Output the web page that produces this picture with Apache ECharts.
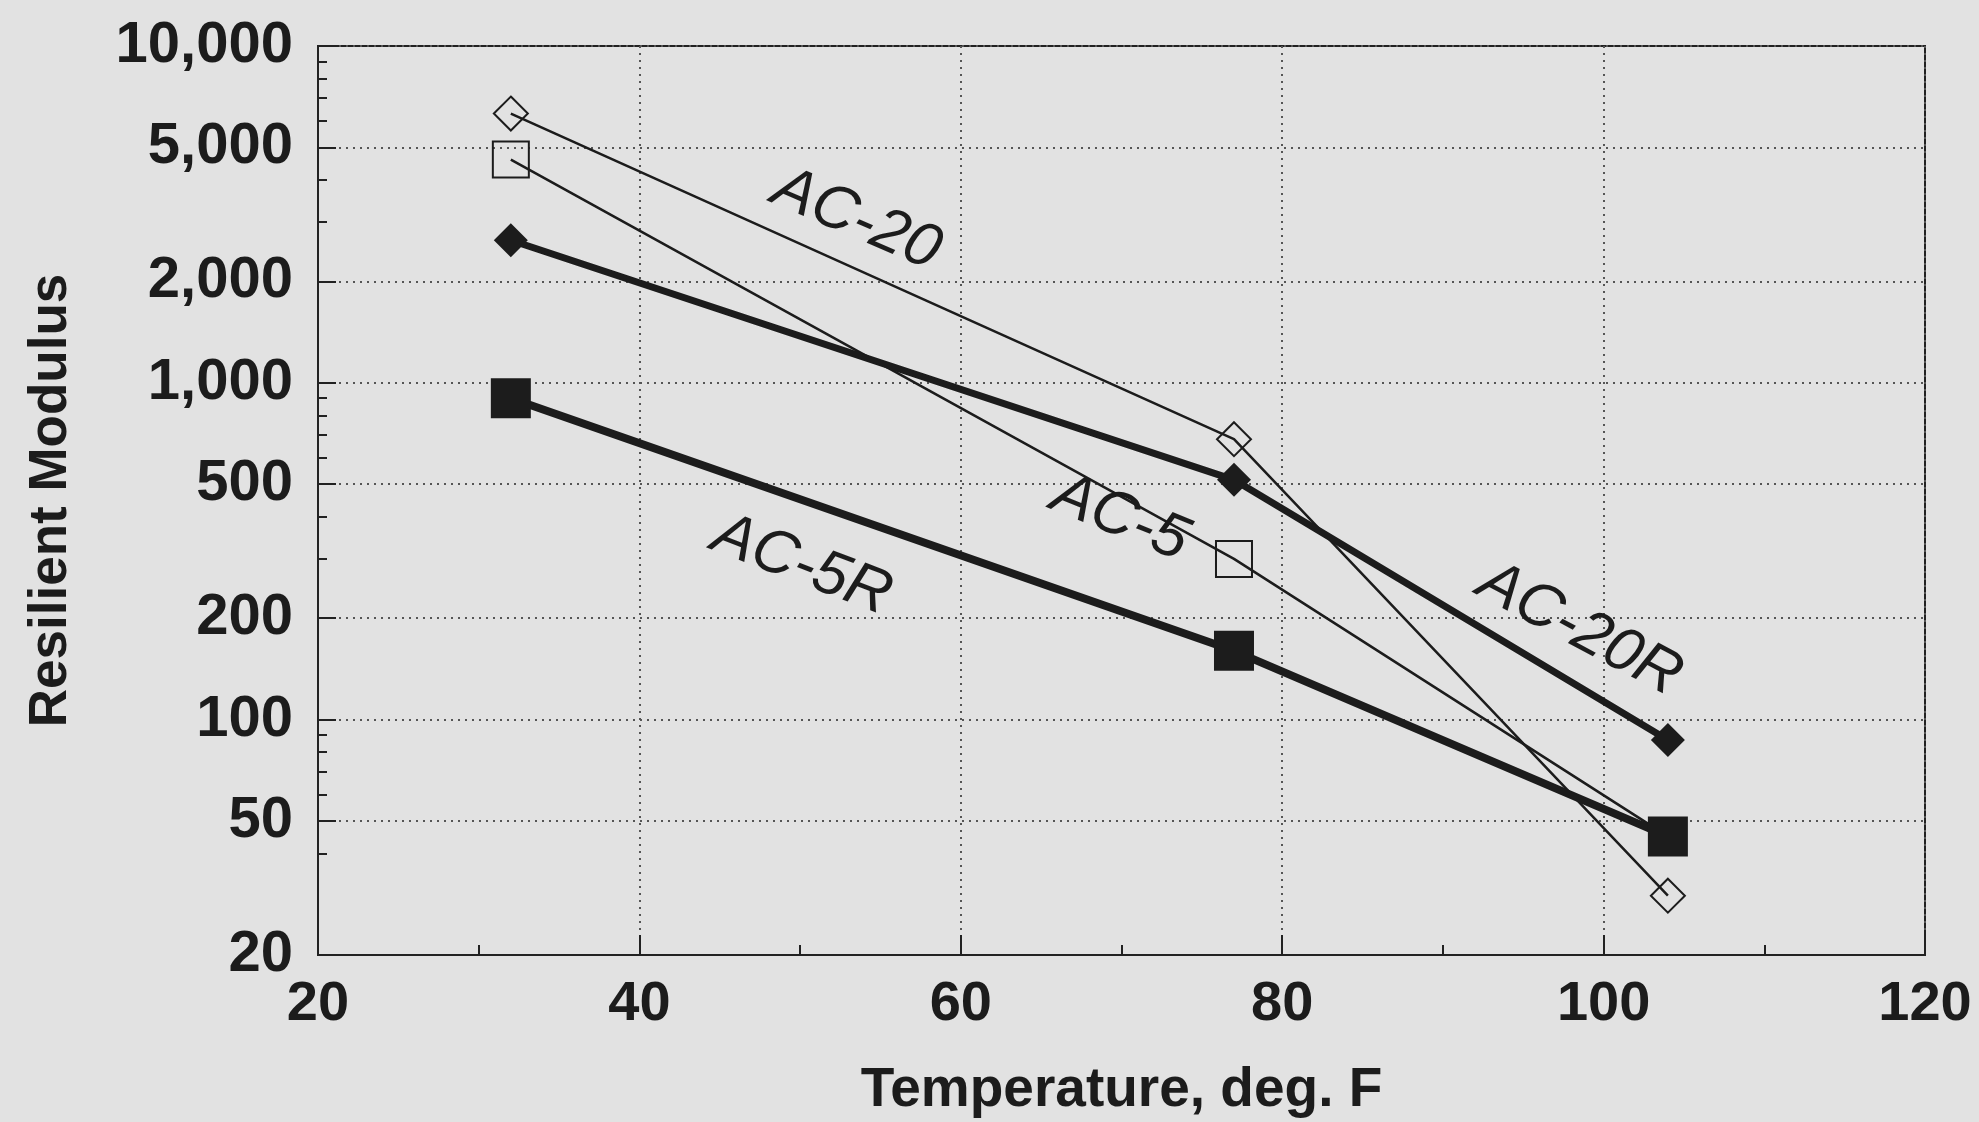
<!DOCTYPE html>
<html>
<head>
<meta charset="utf-8">
<script src="https://cdn.jsdelivr.net/npm/echarts@6/dist/echarts.min.js"></script>
<style>
  html, body { margin: 0; padding: 0; background: #e2e2e2; }
  #chart_modulus { width: 1979px; height: 1122px; }
</style>
</head>
<body>
<div id="chart_modulus"></div>
<script>
// temperature (deg F) and resilient modulus readings
var temps = [32, 77, 104];
var ac20 = [6300, 680, 30];
var ac5 = [4600, 300, 45];
var ac20r = [2650, 515, 87];
var ac5r = [900, 160, 45];

var yTicks = [20, 50, 100, 200, 500, 1000, 2000, 5000, 10000];
var yMinorTicks = [40, 60, 70, 80, 90, 300, 400, 600, 700, 800, 900, 3000, 4000, 6000, 7000, 8000, 9000];

// curve labels: [x, y, angle]
var labelAC20 = [53.5, 3050, -23];
var labelAC5 = [69.9, 396, -22];
var labelAC20R = [98.5, 185, -28];
var labelAC5R = [50.1, 287, -21];

var font = "'Liberation Sans', Arial, sans-serif";
var ink = '#1c1c1c';

function pairs(ys) {
  return temps.map(function (t, i) { return [t, ys[i]]; });
}

function curveLabel(text, pos) {
  return {
    symbol: 'circle',
    symbolSize: 1,
    itemStyle: { color: 'transparent' },
    silent: true,
    label: {
      show: true,
      position: 'inside',
      formatter: text,
      rotate: pos[2],
      fontFamily: font,
      fontStyle: 'italic',
      fontSize: 62,
      color: ink
    },
    data: [{ coord: [pos[0], pos[1]] }]
  };
}

function makeSeries(name, ys, symbol, size, filled, width, lbl) {
  return {
    name: name,
    type: 'line',
    data: pairs(ys),
    symbol: symbol,
    symbolSize: size,
    showSymbol: true,
    itemStyle: filled
      ? { color: ink }
      : { color: 'transparent', borderColor: ink, borderWidth: 2 },
    lineStyle: { color: ink, width: width },
    emphasis: { disabled: true },
    markPoint: curveLabel(name, lbl),
    animation: false
  };
}

var chart_modulus = echarts.init(document.getElementById('chart_modulus'));

var option = {
  backgroundColor: '#e2e2e2',
  animation: false,
  grid: {
    left: 318,
    right: 54,
    top: 46,
    bottom: 167,
    outerBoundsMode: 'none',
    containLabel: false,
    show: true,
    borderColor: '#222',
    borderWidth: 2,
    backgroundColor: 'transparent'
  },
  xAxis: {
    type: 'value',
    min: 20,
    max: 120,
    interval: 20,
    name: 'Temperature, deg. F',
    nameLocation: 'middle',
    nameGap: 108,
    nameTextStyle: { fontFamily: font, fontWeight: 'bold', fontSize: 55, color: ink },
    axisLine: { show: true, lineStyle: { color: '#222', width: 2 } },
    axisTick: { show: true, inside: true, length: 20, lineStyle: { color: '#222', width: 2 } },
    minorTick: { show: true, splitNumber: 2, length: 10, lineStyle: { color: '#222', width: 2 } },
    axisLabel: { fontFamily: font, fontWeight: 'bold', fontSize: 56, color: ink, margin: 22 },
    splitLine: { show: true, lineStyle: { color: '#555', width: 2, type: [2, 5] } }
  },
  yAxis: [
    {
      type: 'log',
      logBase: 10,
      min: 20,
      max: 10000,
      name: 'Resilient Modulus',
      nameLocation: 'middle',
      nameGap: 240,
      nameRotate: 90,
      nameTextStyle: { fontFamily: font, fontWeight: 'bold', fontSize: 53, color: ink },
      axisLine: { show: true, lineStyle: { color: '#222', width: 2 } },
      axisTick: { show: true, inside: true, length: 18, customValues: yTicks, lineStyle: { color: '#222', width: 2 } },
      axisLabel: {
        customValues: yTicks,
        fontFamily: font,
        fontWeight: 'bold',
        fontSize: 58,
        color: ink,
        margin: 25,
        formatter: function (v) { return Number(v).toLocaleString('en-US'); }
      },
      splitLine: { show: true, lineStyle: { color: '#555', width: 2, type: [2, 5] } }
    },
    {
      type: 'log',
      logBase: 10,
      min: 20,
      max: 10000,
      position: 'left',
      axisLine: { show: false },
      axisTick: { show: true, inside: true, length: 9, customValues: yMinorTicks, lineStyle: { color: '#222', width: 2 } },
      axisLabel: { show: false },
      splitLine: { show: false }
    }
  ],
  series: [
    makeSeries('AC-20', ac20, 'diamond', 34, false, 2.5, labelAC20),
    makeSeries('AC-5', ac5, 'rect', 36, false, 2.5, labelAC5),
    makeSeries('AC-20R', ac20r, 'diamond', 34, true, 7, labelAC20R),
    makeSeries('AC-5R', ac5r, 'rect', 40, true, 8, labelAC5R)
  ]
};

chart_modulus.setOption(option);
</script>
</body>
</html>
